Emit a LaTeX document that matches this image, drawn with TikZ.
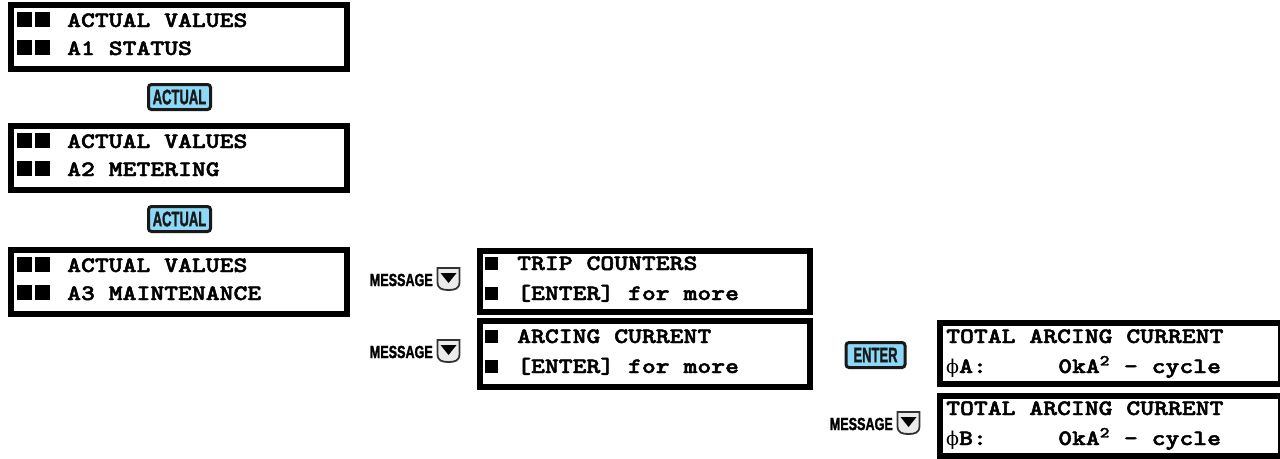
\documentclass[tikz,border=0pt]{standalone}
\usepackage{graphicx}
\usepackage{fontspec}
\newfontfamily\keyfont{Liberation Sans}[BoldFeatures={FakeBold=2}]
\newfontfamily\phifont{DejaVu Serif}
\newfontfamily\lcdfont{lmmonolt10-bold.otf}[FakeBold=2]
\definecolor{keyblue}{RGB}{140,216,246}
\newcommand{\lcd}[1]{\scalebox{1.2}[1]{#1}}
\newcommand{\phisym}{{\phifont\mdseries\fontsize{19}{22}\selectfont ϕ}}
\begin{document}
\begin{tikzpicture}[x=1pt,y=-1pt]
\tikzset{
 lcdbox/.style={draw=black, line width=6.5pt},
 lcdtxt/.style={anchor=base west, inner sep=0pt, font=\fontsize{22}{26}\selectfont\lcdfont},
 sq/.style={fill=black},
 keybtn/.style={draw=black!90, line width=3pt, rounded corners=3pt, fill=keyblue, inner sep=0pt,
   minimum width=62pt, minimum height=25pt, text=black!90, font=\fontsize{21}{24}\selectfont\keyfont\bfseries},
 msgtxt/.style={anchor=east, inner sep=0pt, font=\fontsize{17.5}{21}\selectfont\keyfont\bfseries},
 msgkey/.pic={
   \draw[fill=black!8, draw=black!80, line width=1.8pt]
     (-11,-11) -- (11,-11) -- (11,3) .. controls (11,10) and (6,11) .. (0,11)
     .. controls (-6,11) and (-11,10) .. (-11,3) -- cycle;
   \fill[black] (-8,-6) -- (8,-6) -- (0,4) -- cycle;
 }
}
\useasboundingbox (0,0) rectangle (1280,458);

% ---- left column ----
\draw[lcdbox] (11,5) rectangle (347,69);
\fill[sq] (17,12) rectangle (32,27); \fill[sq] (35,12) rectangle (50,27);
\fill[sq] (17,40) rectangle (32,55); \fill[sq] (35,40) rectangle (50,55);
\node[lcdtxt] (t1a) at (67,27) {\lcd{ACTUAL VALUES}};
\node[lcdtxt] (t1b) at (67,55) {\lcd{A1 STATUS}};

\node[keybtn] (act1) at (179.5,97) {\scalebox{0.62}[1]{ACTUAL}};

\draw[lcdbox] (11,126) rectangle (347,190);
\fill[sq] (17,133) rectangle (32,148); \fill[sq] (35,133) rectangle (50,148);
\fill[sq] (17,161) rectangle (32,176); \fill[sq] (35,161) rectangle (50,176);
\node[lcdtxt] (t2a) at (67,148) {\lcd{ACTUAL VALUES}};
\node[lcdtxt] (t2b) at (67,176) {\lcd{A2 METERING}};

\node[keybtn] (act2) at (179.5,219) {\scalebox{0.62}[1]{ACTUAL}};

\draw[lcdbox] (11,250) rectangle (347,314);
\fill[sq] (17,257) rectangle (32,272); \fill[sq] (35,257) rectangle (50,272);
\fill[sq] (17,285) rectangle (32,300); \fill[sq] (35,285) rectangle (50,300);
\node[lcdtxt] (t3a) at (67,272) {\lcd{ACTUAL VALUES}};
\node[lcdtxt] (t3b) at (67,300) {\lcd{A3 MAINTENANCE}};

% ---- middle column ----
\node[msgtxt] (m1) at (433,280) {\scalebox{0.72}[1]{MESSAGE}};
\pic at (448.5,279) {msgkey};
\draw[lcdbox] (480,251) rectangle (810,312);
\fill[sq] (485,257) rectangle (498,270); \fill[sq] (485,287) rectangle (498,300);
\node[lcdtxt] (t4a) at (517,270) {\lcd{TRIP COUNTERS}};
\node[lcdtxt] (t4b) at (517,300) {\lcd{[ENTER] for more}};

\node[msgtxt] (m2) at (433,352) {\scalebox{0.72}[1]{MESSAGE}};
\pic at (448.5,351) {msgkey};
\draw[lcdbox] (480,321) rectangle (810,387);
\fill[sq] (485,330) rectangle (498,343); \fill[sq] (485,360) rectangle (498,373);
\node[lcdtxt] (t5a) at (517,343) {\lcd{ARCING CURRENT}};
\node[lcdtxt] (t5b) at (517,373) {\lcd{[ENTER] for more}};

% ---- right column ----
\node[keybtn, minimum width=59pt] (ent) at (875.5,355) {\scalebox{0.62}[1]{ENTER}};
\draw[lcdbox] (940,323) rectangle (1281,384);
\node[lcdtxt] (t6a) at (946,343) {\lcd{TOTAL ARCING CURRENT}};
\node[lcdtxt] (t6b) at (946,373) {\phisym\lcd{A:}};
\node[lcdtxt] (t6c) at (1058,373) {\lcd{0kA\textsuperscript{2} - cycle}};

\node[msgtxt] (m3) at (893,424) {\scalebox{0.72}[1]{MESSAGE}};
\pic at (908.5,423) {msgkey};
\draw[lcdbox] (940,396) rectangle (1281,456);
\node[lcdtxt] (t7a) at (946,415) {\lcd{TOTAL ARCING CURRENT}};
\node[lcdtxt] (t7b) at (946,445) {\phisym\lcd{B:}};
\node[lcdtxt] (t7c) at (1058,445) {\lcd{0kA\textsuperscript{2} - cycle}};
\end{tikzpicture}
\end{document}
